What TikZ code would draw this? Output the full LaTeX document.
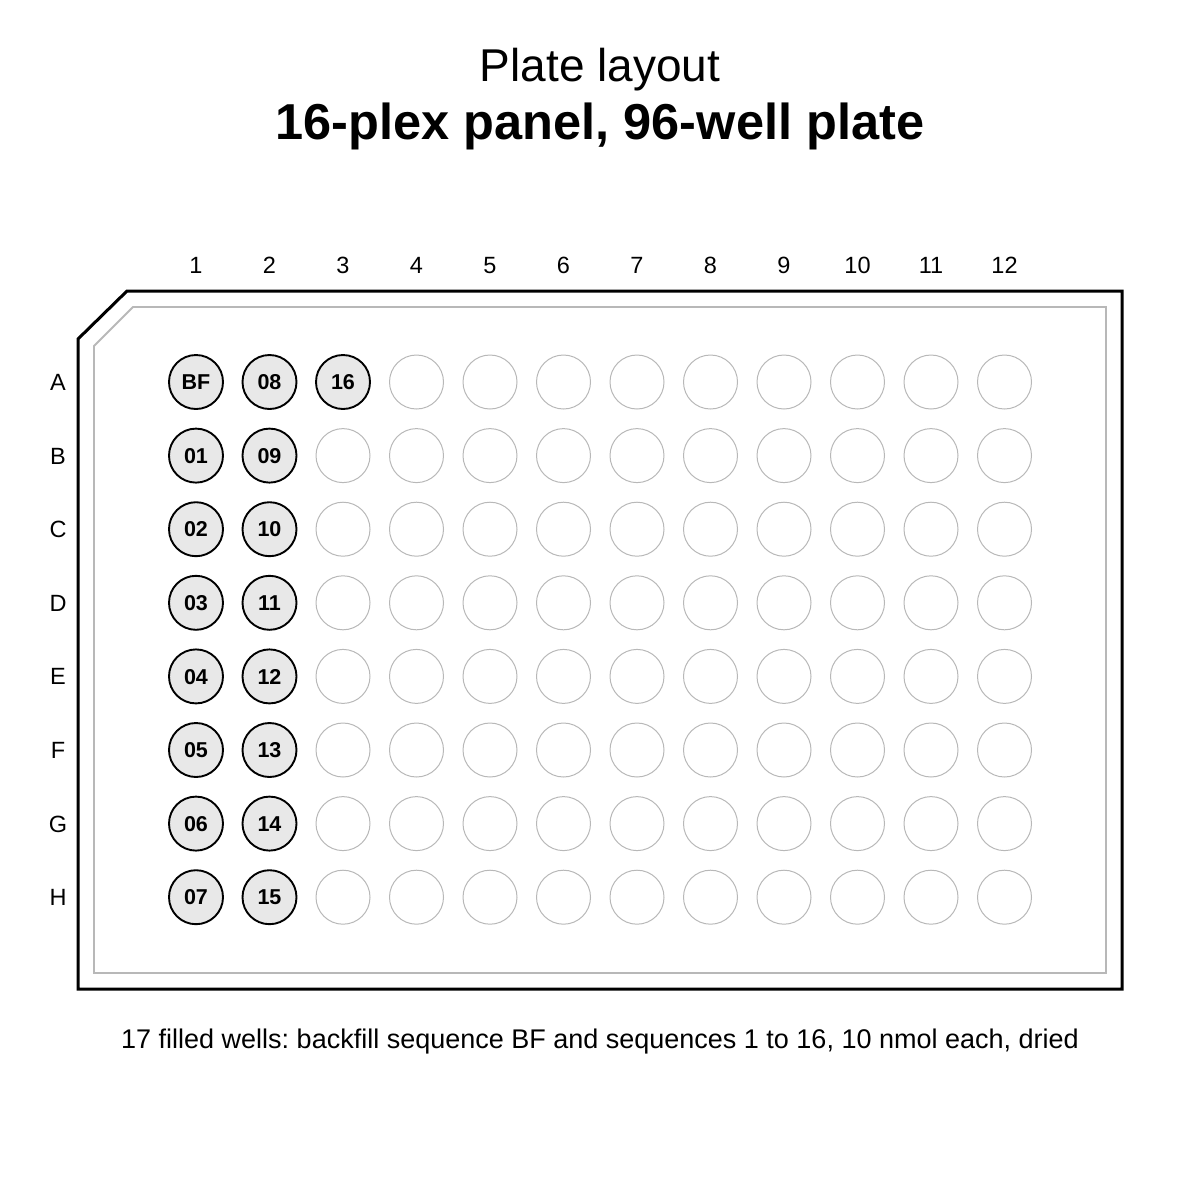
\documentclass[tikz,border=0pt]{standalone}
\usepackage{fontspec}
\setmainfont{Liberation Sans}
\usetikzlibrary{positioning}
\frenchspacing

\tikzset{
	well/.style={circle,minimum size=54pt,inner sep=0pt,draw=black!28,line width=1pt},
	fullwell/.style={well,draw=black,fill=black!9,line width=1.9pt,font=\fontsize{21.5}{21.5}\selectfont\bfseries,text height=15.5pt,text depth=0pt},
	axislabel/.style={font=\fontsize{23.5}{23.5}\selectfont,text height=17pt,text depth=0pt}
}

\begin{document}
\begin{tikzpicture}[x=1pt,y=-1pt]
		\useasboundingbox (0,0) rectangle (1200,1200);
	
		\node (title) at (600,70) {\fontsize{46}{46}\selectfont Plate layout};
		\node (subtitle) at (600,126) {\fontsize{50.5}{50.5}\selectfont\bfseries 16-plex panel, 96-well plate};
		
		% plate outline
		\draw[line width=3pt,line join=miter] (78,989) -- (78,339) -- (127,291) -- (1122,291) -- (1122,989) -- cycle;
		\draw[line width=1.8pt,draw=black!28] (94,973) -- (94,346) -- (133,307) -- (1106,307) -- (1106,973) -- cycle;
		
		% column and row numbers
		\foreach \c in {1,...,12}
			\node[axislabel] (col-\c) at ({196+73.5*(\c-1)},265) {\c};
		\foreach \rl [count=\r] in {A,...,H}
			\node[axislabel] (row-\rl) at (58,{382+73.6*(\r-1)}) {\rl};
		
		% filled wells
		\foreach \rl/\wa/\wb [count=\r] in {A/BF/08,B/01/09,C/02/10,D/03/11,E/04/12,F/05/13,G/06/14,H/07/15}{
			\node[fullwell] (well-\rl-1) at (196,{382+73.6*(\r-1)}) {\wa};
			\node[fullwell] (well-\rl-2) at (269.5,{382+73.6*(\r-1)}) {\wb};
		}
		\node[fullwell] (well-A-3) at (343,382) {16};
		
		% empty wells
		\foreach \c in {4,...,12}
			\node[well] (well-A-\c) at ({196+73.5*(\c-1)},382) {};
		\foreach \rl [count=\r from 2] in {B,...,H}
			\foreach \c in {3,...,12}
				\node[well] (well-\rl-\c) at ({196+73.5*(\c-1)},{382+73.6*(\r-1)}) {};
		
		\node (note) at (600,1042) {\fontsize{27}{27}\selectfont 17 filled wells: backfill sequence BF and sequences 1 to 16, 10 nmol each, dried};
	\end{tikzpicture}
\end{document}
